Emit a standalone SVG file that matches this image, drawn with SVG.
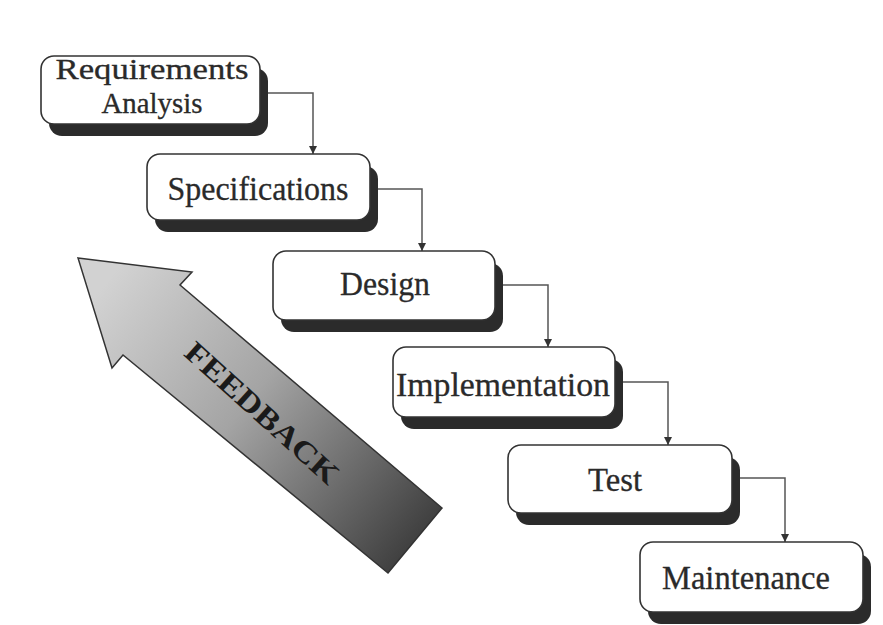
<svg xmlns="http://www.w3.org/2000/svg" width="883" height="625" viewBox="0 0 883 625">
<defs>
  <linearGradient id="fbGrad" gradientUnits="userSpaceOnUse" x1="100" y1="290" x2="420" y2="550">
    <stop offset="0" stop-color="#d2d2d2"/>
    <stop offset="0.45" stop-color="#a4a4a4"/>
    <stop offset="1" stop-color="#3c3c3c"/>
  </linearGradient>
  <marker id="ah" viewBox="0 0 10 10" refX="10" refY="5" markerWidth="11" markerHeight="8" markerUnits="userSpaceOnUse" orient="auto">
    <path d="M0,0 L10,5 L0,10 Z" fill="#333"/>
  </marker>
  <style>
    .shadow { fill: #2b2b2b; }
    .box { fill: #fff; stroke: #333; stroke-width: 1.6; }
    .lbl { font-family: "Liberation Serif", "Times New Roman", serif; font-size: 33px; fill: #2a2a2a; stroke: #2a2a2a; stroke-width: 0.3; text-anchor: middle; }
    .sm { font-size: 29px; }
    .conn { fill: none; stroke: #555; stroke-width: 1.5; marker-end: url(#ah); }
    .fb { font-family: "Liberation Serif", "Times New Roman", serif; font-size: 30px; font-weight: bold; fill: #1a1a1a; text-anchor: middle; }
  </style>
</defs>
<rect width="883" height="625" fill="#fff"/>

<g id="feedback">
  <polygon points="78,258 192,272 180,285 442,508 388,573 123,355 112,368" fill="url(#fbGrad)" stroke="#333" stroke-width="1.5" stroke-linejoin="miter"/>
  <text class="fb" transform="translate(262,413) rotate(42)" y="10" textLength="196" lengthAdjust="spacingAndGlyphs">FEEDBACK</text>
</g>

<g id="connectors">
  <path class="conn" d="M268,93 H313 V154"/>
  <path class="conn" d="M378,189 H422 V251"/>
  <path class="conn" d="M503,285 H548 V347"/>
  <path class="conn" d="M623,382 H668 V445"/>
  <path class="conn" d="M740,478 H785 V542"/>
</g>

<g id="requirements">
  <rect class="shadow" x="49" y="68" width="219" height="68" rx="13"/>
  <rect class="box" x="41" y="56" width="219" height="68" rx="13"/>
  <text class="lbl sm" x="152" y="79" textLength="193" lengthAdjust="spacingAndGlyphs">Requirements</text>
  <text class="lbl sm" x="152" y="113" textLength="101" lengthAdjust="spacingAndGlyphs">Analysis</text>
</g>

<g id="specifications">
  <rect class="shadow" x="155" y="166" width="223" height="66" rx="13"/>
  <rect class="box" x="147" y="154" width="223" height="66" rx="13"/>
  <text class="lbl" x="258" y="200" textLength="181" lengthAdjust="spacingAndGlyphs">Specifications</text>
</g>

<g id="design">
  <rect class="shadow" x="281" y="263" width="222" height="69" rx="13"/>
  <rect class="box" x="273" y="251" width="222" height="69" rx="13"/>
  <text class="lbl" x="385" y="295" textLength="90" lengthAdjust="spacingAndGlyphs">Design</text>
</g>

<g id="implementation">
  <rect class="shadow" x="401" y="359" width="222" height="70" rx="13"/>
  <rect class="box" x="393" y="347" width="222" height="70" rx="13"/>
  <text class="lbl" x="503" y="396" textLength="214" lengthAdjust="spacingAndGlyphs">Implementation</text>
</g>

<g id="test">
  <rect class="shadow" x="516" y="457" width="224" height="68" rx="13"/>
  <rect class="box" x="508" y="445" width="224" height="68" rx="13"/>
  <text class="lbl" x="615" y="491" textLength="54" lengthAdjust="spacingAndGlyphs">Test</text>
</g>

<g id="maintenance">
  <rect class="shadow" x="648" y="554" width="223" height="70" rx="13"/>
  <rect class="box" x="640" y="542" width="223" height="70" rx="13"/>
  <text class="lbl" x="746" y="589" textLength="168" lengthAdjust="spacingAndGlyphs">Maintenance</text>
</g>
</svg>
